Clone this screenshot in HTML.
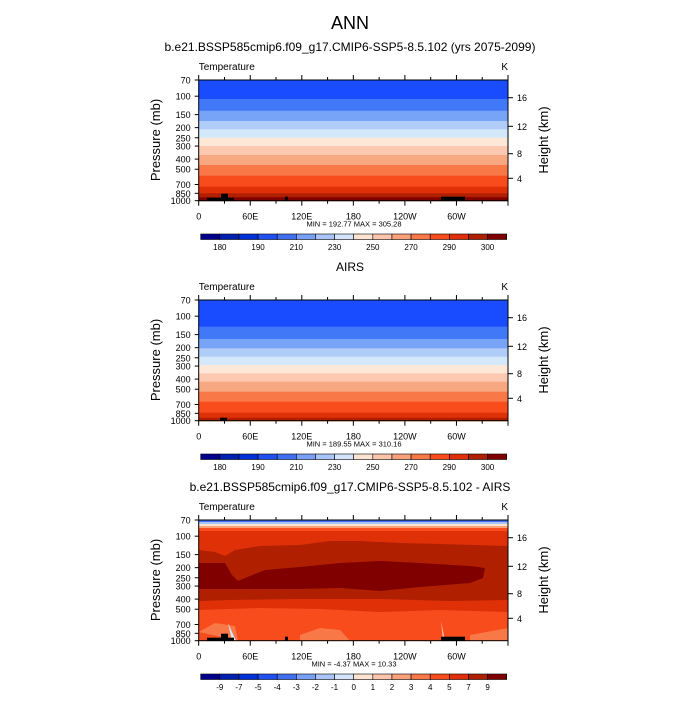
<!DOCTYPE html>
<html><head><meta charset="utf-8"><style>
body{margin:0;background:#fff}
svg text{font-family:"Liberation Sans",sans-serif}
</style></head><body>
<svg id="s" width="700" height="700" xmlns="http://www.w3.org/2000/svg">
<text x="350" y="29" font-size="18" text-anchor="middle">ANN</text>
</svg>
<script>
const S=document.getElementById('s');
let h='';
const L=198.7,R=508,W=R-L,H=120.7;
const C=['#00008c','#0020b0','#0030d8','#2050f0','#4070f0','#78a0f4','#a8c4f8','#d4e4fc','#fde4d0','#fcc4a8','#f8a078','#f87848','#f84c1c','#e03008','#b02000','#800000'];
function yp(p){return H*Math.log(p/70)/Math.log(1000/70);}
function bands(T,b,cols){let prev=0;for(let i=0;i<cols.length;i++){let nb=i<b.length?b[i]:H;h+=`<rect x="${L}" y="${T+prev}" width="${W}" height="${nb-prev+0.5}" fill="${cols[i]}"/>`;prev=nb;}}
function frame(T,title,cbl,minmax){
 h+=`<rect x="${L}" y="${T}" width="${W}" height="${H}" fill="none" stroke="#000" stroke-width="1"/>`;
 h+=`<text x="${L}" y="${T-10}" font-size="10">Temperature</text><text x="${R}" y="${T-10}" font-size="10" text-anchor="end">K</text>`;
 h+=`<text x="350" y="${T-29}" font-size="12" text-anchor="middle">${title}</text>`;
 [70,100,150,200,250,300,400,500,700,850,1000].forEach(p=>{let y=T+yp(p);h+=`<line x1="${L-4}" x2="${L}" y1="${y}" y2="${y}" stroke="#000"/><text x="${L-8}" y="${y+3.5}" font-size="9" text-anchor="end">${p}</text>`;});
 [[16,17.7],[12,46.3],[8,73.7],[4,98.3]].forEach(a=>{let y=T+a[1];h+=`<line x1="${R}" x2="${R+5}" y1="${y}" y2="${y}" stroke="#000"/><text x="${R+9}" y="${y+3.5}" font-size="9">${a[0]}</text>`;});
 h+=`<text transform="translate(160,${T+60}) rotate(-90)" font-size="13" text-anchor="middle">Pressure (mb)</text>`;
 h+=`<text transform="translate(548,${T+60}) rotate(-90)" font-size="13" text-anchor="middle">Height (km)</text>`;
 const xl=['0','60E','120E','180','120W','60W'];
 for(let i=0;i<=12;i++){let x=L+W*i/12,len=i%2?3:5;h+=`<line x1="${x}" x2="${x}" y1="${T+H}" y2="${T+H+len}" stroke="#000"/><line x1="${x}" x2="${x}" y1="${T}" y2="${T-len}" stroke="#000"/>`;if(i%2==0&&i<12)h+=`<text x="${x}" y="${T+H+19}" font-size="9" text-anchor="middle">${xl[i/2]}</text>`;}
 h+=`<text x="354" y="${T+H+26}" font-size="7.5" text-anchor="middle">${minmax}</text>`;
 const cy=T+154,cx=200.7,cw=306/16;
 for(let i=0;i<16;i++)h+=`<rect x="${cx+i*cw}" y="${cy}" width="${cw}" height="5.5" fill="${C[i]}" stroke="#000" stroke-width="0.6"/>`;
 cbl.forEach((t,i)=>{if(t===null)return;let x=cx+(i+1)*cw;h+=`<text x="${x}" y="${cy+16}" font-size="8" text-anchor="middle">${t}</text>`;});
}
function land(T){h+=`<rect x="207" y="${T+H-3}" width="27" height="3"/><rect x="221" y="${T+H-7}" width="7" height="5"/><rect x="285" y="${T+H-4}" width="3" height="4"/><rect x="441" y="${T+H-4}" width="24" height="4"/>`;}
let T=80;
bands(T,[19,30.7,41,49.3,57.7,66,75,85,95.7,106.7,113.3,117.3],['#1a4cff','#4078f8','#78a4f8','#b0ccf8','#d4e8fc','#fde8d8','#fcc8b0','#f8a880','#f87848','#f84c1c','#e03008','#b02000','#800000']);
land(T);
const l1=['180',null,'190',null,'210',null,'230',null,'250',null,'270',null,'290',null,'300'];
frame(T,'b.e21.BSSP585cmip6.f09_g17.CMIP6-SSP5-8.5.102 (yrs 2075-2099)',l1.map((v,i)=>i%2==0?v:null),'MIN = 192.77  MAX = 305.28');
T=300;
bands(T,[26.7,39,48.3,56.7,65,73.3,81.7,91.7,101.7,112.7,117.7],['#1a4cff','#4078f8','#78a4f8','#b0ccf8','#d4e8fc','#fde8d8','#fcc8b0','#f8a880','#f87848','#f84c1c','#e03008','#b02000']);
h+=`<rect x="220" y="${T+H-3}" width="7" height="3"/>`;
frame(T,'AIRS',l1.map((v,i)=>i%2==0?v:null),'MIN = 189.55  MAX = 310.16');
T=520;
h+=`<rect x="${L}" y="${T}" width="${W}" height="${H}" fill="#f84c1c"/>`;
h+=`<path d="M${L},${T+10} L508,${T+10} L508,${T+92} L440,${T+90} L380,${T+92} L320,${T+89} L260,${T+88} L${L},${T+90} Z" fill="#e03008"/>`;
h+=`<rect x="${L}" y="${T}" width="${W}" height="2" fill="#4070f0"/><rect x="${L}" y="${T+2}" width="${W}" height="2" fill="#a8c4f8"/><rect x="${L}" y="${T+4}" width="${W}" height="2" fill="#fde4d0"/><rect x="${L}" y="${T+6}" width="${W}" height="2" fill="#f8a078"/><rect x="${L}" y="${T+8}" width="${W}" height="3" fill="#f84c1c"/>`;
h+=`<path d="M${L},${T+30} L215,${T+32} L225,${T+36} L235,${T+30} L260,${T+26} L300,${T+25} L330,${T+21} L360,${T+21} L400,${T+23} L440,${T+24} L508,${T+26} L508,${T+80} L450,${T+81} L380,${T+79} L300,${T+79} L230,${T+80} L${L},${T+81} Z" fill="#b02000"/>`;
h+=`<path d="M${L},${T+43} L225,${T+43} L232,${T+55} L238,${T+61} L245,${T+58} L265,${T+50} L300,${T+47} L340,${T+43} L380,${T+41} L420,${T+43} L470,${T+46} L485,${T+48} L483,${T+58} L470,${T+63} L420,${T+67} L380,${T+71} L340,${T+68} L300,${T+69} L260,${T+69} L${L},${T+69} Z" fill="#800000"/>`;
h+=`<path d="M${L},${T+112} L215,${T+103} L235,${T+106} L238,${T+H} Z" fill="#f87848"/><path d="M300,${T+115} L320,${T+108} L340,${T+110} L350,${T+H} L300,${T+H} Z" fill="#f87848"/><path d="M470,${T+115} L508,${T+108} L508,${T+H} L470,${T+H} Z" fill="#f87848"/>`;
h+=`<path d="M228,${T+103} L232,${T+H} L236,${T+H} Z" fill="#d4e4fc"/><path d="M441,${T+101} L443,${T+H} L445,${T+H} Z" fill="#fcc4a8"/>`;
land(T);
frame(T,'b.e21.BSSP585cmip6.f09_g17.CMIP6-SSP5-8.5.102 - AIRS',['-9','-7','-5','-4','-3','-2','-1','0','1','2','3','4','5','7','9'],'MIN =  -4.37  MAX =  10.33');
S.insertAdjacentHTML('beforeend',h);
</script>
</body></html>
